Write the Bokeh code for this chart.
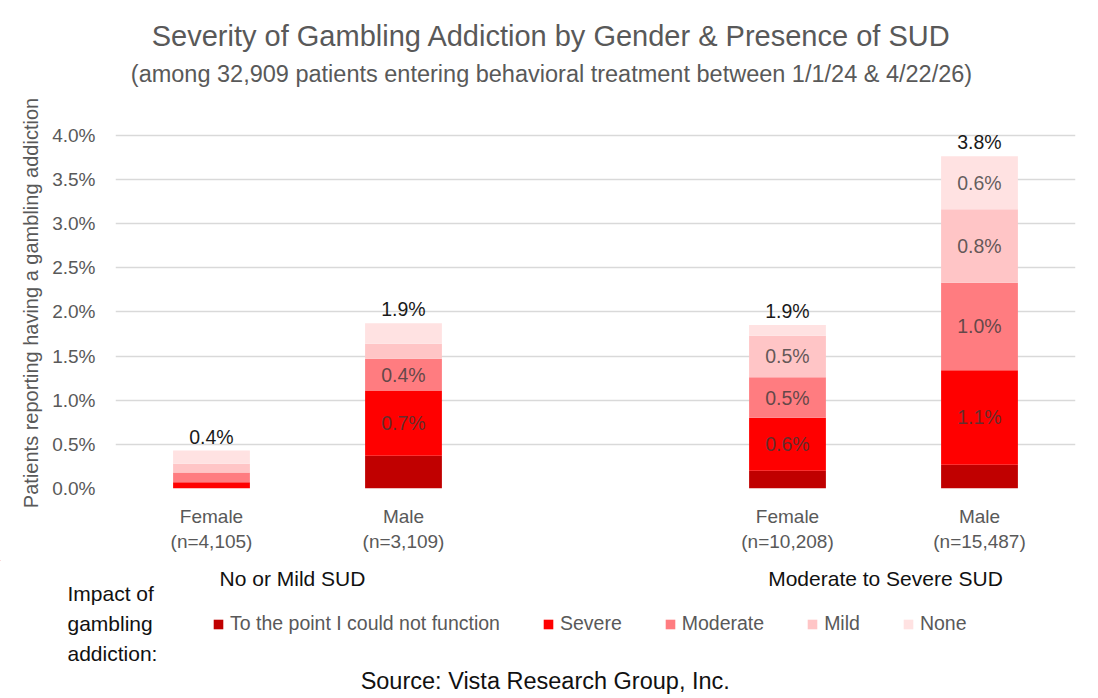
from bokeh.plotting import figure
from bokeh.layouts import column
from bokeh.models import (FactorRange, Range1d, Label, LabelSet, Legend, LegendItem,
                          ColumnDataSource, PrintfTickFormatter, SingleIntervalTicker)
from bokeh.core.properties import value
from bokeh.embed import file_html
from bokeh.resources import INLINE

# ---- data (percent of patients reporting a gambling addiction) ----
groups = ["No or Mild SUD", "No or Mild SUD", "Moderate to Severe SUD", "Moderate to Severe SUD"]
genders = ["Female\n(n=4,105)", "Male\n(n=3,109)", "Female\n(n=10,208)", "Male\n(n=15,487)"]

severity_levels = ["To the point I could not function", "Severe", "Moderate", "Mild", "None"]
could_not_function = [0.00, 0.37, 0.20, 0.27]
severe = [0.07, 0.74, 0.60, 1.07]
moderate = [0.11, 0.36, 0.46, 0.99]
mild = [0.10, 0.17, 0.47, 0.83]
no_impact = [0.15, 0.23, 0.12, 0.60]

series = [could_not_function, severe, moderate, mild, no_impact]
keys = ["function", "severe", "moderate", "mild", "none"]
colors = ["#C00000", "#FF0000", "#FF7C80", "#FFC5C6", "#FFE2E2"]

TITLE = "Severity of Gambling Addiction by Gender & Presence of SUD"
SUBTITLE = "(among 32,909 patients entering behavioral treatment between 1/1/24 & 4/22/26)"
SOURCE = "Source:  Vista Research Group, Inc."
LEGEND_TITLE = ["Impact of", "gambling", "addiction:"]

FONT = "Liberation Sans"
GRAY = "#595959"
DARK = "#111111"
W = 1098
HEAD_H = 88
FOOT_TOP = 560


def text_panel(height, y_top):
    """A figure with no axes whose data coordinates equal page pixels."""
    f = figure(width=W, height=height, x_range=Range1d(0, W),
               y_range=Range1d(y_top + height, y_top), x_axis_type=None, y_axis_type=None,
               output_backend="svg", toolbar_location=None, min_border=0, frame_align=False)
    f.outline_line_color = None
    f.grid.visible = False
    return f


# ---- heading ----
head = text_panel(HEAD_H, 0)
head.add_layout(Label(x=551, y=35, text=TITLE, text_align="center", text_baseline="middle",
                      text_font=FONT, text_font_size="29px", text_color=GRAY))
head.add_layout(Label(x=551, y=73, text=SUBTITLE, text_align="center", text_baseline="middle",
                      text_font=FONT, text_font_size="23.5px", text_color=GRAY))

# ---- stacked bars ----
factors = list(zip(groups, genders))
data = {"x": factors}
for k, s in zip(keys, series):
    data[k] = s
src = ColumnDataSource(data)

# the range runs a little past 4.0% so the tallest total label has room
p = figure(x_range=FactorRange(*factors, group_padding=1.0, range_padding=0.0, factor_padding=0.0),
           y_range=Range1d(0, 4.2), width=W, height=FOOT_TOP - HEAD_H,
           output_backend="svg", toolbar_location=None, frame_align=False,
           min_border_left=115, min_border_right=23, min_border_top=117 - HEAD_H,
           min_border_bottom=72)
p.outline_line_color = None

p.vbar_stack(keys, x="x", width=0.4, color=colors, source=src, line_color=None)

p.yaxis.ticker = SingleIntervalTicker(interval=0.5)
p.yaxis.formatter = PrintfTickFormatter(format="%.1f%%")
p.yaxis.axis_line_color = None
p.yaxis.major_tick_line_color = None
p.yaxis.minor_tick_line_color = None
p.yaxis.major_label_text_font = FONT
p.yaxis.major_label_text_font_size = "19px"
p.yaxis.major_label_text_color = GRAY
p.yaxis.major_label_standoff = 14
p.yaxis.axis_label = "Patients reporting having a gambling addiction"
p.yaxis.axis_label_text_font = FONT
p.yaxis.axis_label_text_font_style = "normal"
p.yaxis.axis_label_text_font_size = "20px"
p.yaxis.axis_label_text_color = GRAY
p.yaxis.axis_label_standoff = 7

p.xaxis.axis_line_color = None
p.xaxis.major_tick_line_color = None
p.xaxis.minor_tick_line_color = None
p.xaxis.separator_line_color = None
p.xaxis.major_label_text_font = FONT
p.xaxis.major_label_text_font_size = "19px"
p.xaxis.major_label_text_color = GRAY
p.xaxis.major_label_standoff = 11
# group names are written under the chart, next to the legend
p.xaxis.group_text_color = None
p.xaxis.group_text_font_size = "0px"
p.xgrid.grid_line_color = None
p.ygrid.grid_line_color = "#D9D9D9"
p.ygrid.grid_line_width = 1.5

# segment labels (larger segments only, darkest tier unlabelled)
lx, ly, lt = [], [], []
for i, f in enumerate(factors):
    base = 0.0
    for k, s in zip(keys, series):
        v = s[i]
        if k != "function" and v >= 0.3:
            lx.append(f)
            ly.append(base + v / 2)
            lt.append(f"{v:.1f}%")
        base += v
seg_src = ColumnDataSource(dict(x=lx, y=ly, t=lt))
p.add_layout(LabelSet(x="x", y="y", text="t", source=seg_src, text_align="center",
                      text_baseline="middle", text_font=value(FONT), text_font_size="19.5px",
                      text_color="#3A3A3A", text_alpha=0.8))

totals = [sum(s[i] for s in series) for i in range(len(factors))]
tot_src = ColumnDataSource(dict(x=factors, y=totals, t=[f"{v:.1f}%" for v in totals]))
p.add_layout(LabelSet(x="x", y="y", text="t", source=tot_src, text_align="center",
                      text_baseline="middle", y_offset=14, text_font=value(FONT),
                      text_font_size="19.5px", text_color="#1A1A1A"))

# ---- group names, legend and source ----
foot = text_panel(698 - FOOT_TOP, FOOT_TOP)
group_names = list(dict.fromkeys(groups))
for name, gx in zip(group_names, [292, 885]):
    foot.add_layout(Label(x=gx, y=578, text=name, text_align="center", text_baseline="middle",
                          text_font=FONT, text_font_size="21px", text_color=DARK))

for i, line in enumerate(LEGEND_TITLE):
    foot.add_layout(Label(x=67, y=593 + 30 * i, text=line, text_baseline="middle",
                          text_font=FONT, text_font_size="21px", text_color=DARK))

# swatch renderers for the legend sit outside the visible area
swatches = [foot.vbar(x=[-100], top=[-100], width=1, color=c, line_color=None) for c in colors]
legend = Legend(items=[LegendItem(label=n, renderers=[r]) for n, r in zip(severity_levels, swatches)],
                orientation="horizontal", location=(212, 63),
                glyph_width=12, glyph_height=12, label_standoff=6, spacing=42,
                padding=0, margin=0, border_line_color=None, background_fill_alpha=0,
                label_text_font=FONT, label_text_font_size="19.5px", label_text_color=GRAY)
foot.add_layout(legend)

foot.add_layout(Label(x=548, y=680, text=SOURCE, text_align="center", text_baseline="middle",
                      text_font=FONT, text_font_size="23.5px", text_color=DARK))

open("out.html", "w").write(file_html(column(head, p, foot, spacing=0), INLINE))
